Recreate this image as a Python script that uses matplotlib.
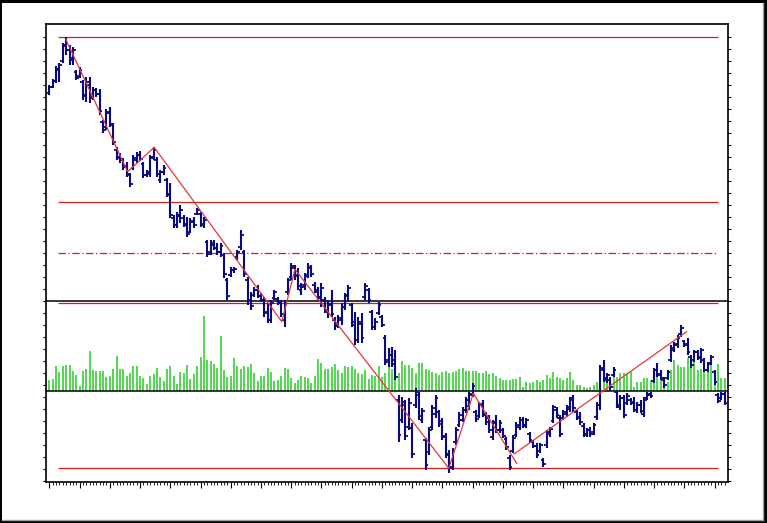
import numpy as np
import matplotlib
matplotlib.use("Agg")
import matplotlib.pyplot as plt
from matplotlib.patches import Rectangle
from matplotlib.lines import Line2D

# ---------------- data ----------------
high = [41.5,42.1,43.4,43.7,45.7,46.3,45.5,45.3,43.0,43.3,
        42.0,42.3,42.3,41.3,41.2,41.1,38.0,39.1,39.3,37.7,
        35.3,34.7,34.2,33.8,32.7,34.5,34.8,34.9,33.8,33.0,
        34.5,35.3,34.3,
        33.0,33.5,32.2,31.7,28.5,28.8,29.5,28.5,28.3,28.2,
        28.3,29.2,28.8,28.3,26.0,26.0,26.0,25.7,25.7,24.7,
        22.2,23.3,23.3,25.0,27.0,25.0,22.3,20.8,21.3,21.5,
        20.7,20.3,19.7,20.0,21.0,
        20.3,20.0,20.0,22.2,23.7,23.5,23.2,21.7,22.7,23.7,
        23.5,21.8,21.3,21.7,20.3,20.0,21.0,18.3,18.5,19.7,
        20.7,21.5,19.7,18.8,18.3,18.7,21.7,21.2,
        19.0,18.2,19.8,18.5,16.5,15.2,
        15.3,15.0,10.5,10.3,10.0,10.2,7.7,11.2,10.8,9.2,
        6.2,7.3,9.5,10.5,9.0,8.2,6.7,5.0,5.2,7.3,
        8.8,9.3,10.3,10.8,11.7,9.0,9.8,10.0,8.8,8.5,8.0,8.5,8.0,
        7.2,6.3,4.5,6.5,7.8,8.3,8.3,8.2,6.8,6.0,
        5.7,5.7,4.2,7.0,7.3,9.5,9.3,8.5,9.0,9.5,
        10.3,10.5,9.0,8.8,7.7,7.2,7.3,7.7,9.8,13.5,
        14.0,12.7,12.3,13.3,11.0,10.5,10.5,10.7,10.2,10.3,
        9.8,10.0,10.3,10.8,10.8,13.2,13.7,13.0,12.3,13.0,
        15.5,15.8,16.5,17.5,16.0,16.2,14.5,15.0,15.0,15.2,
        14.2,13.8,14.5,13.0,10.7,10.8,10.8]

low = [40.5,41.2,41.7,41.8,43.7,44.5,43.5,43.5,42.0,42.2,
       40.0,39.8,39.7,40.0,40.3,38.5,36.7,37.0,37.3,35.5,
       34.0,33.7,33.0,32.3,31.3,33.0,33.7,33.9,32.2,32.3,
       32.3,34.0,32.3,
       31.7,32.5,30.3,28.2,27.2,27.2,27.7,27.3,26.3,26.7,
       27.2,28.5,27.3,27.2,24.3,24.5,25.0,24.5,24.3,22.2,
       20.0,22.3,22.7,24.0,25.0,22.3,19.5,19.0,20.3,20.2,
       19.8,18.3,17.7,17.7,20.0,
       19.5,18.3,17.3,20.5,22.0,22.0,21.0,20.5,21.0,22.2,
       22.3,20.7,20.0,19.3,18.7,18.2,18.3,17.0,17.2,17.5,
       19.0,19.8,17.3,15.5,15.7,15.7,20.0,19.7,
       17.0,17.0,18.5,17.3,13.5,13.3,
       13.3,12.0,5.8,7.7,6.0,7.0,4.2,9.2,8.0,7.7,
       3.0,4.5,7.0,8.2,7.3,6.0,4.2,2.7,3.0,5.5,
       7.3,7.8,8.7,9.0,10.3,7.8,8.2,8.3,7.5,6.7,6.0,6.7,6.7,
       6.2,5.0,3.0,4.7,6.3,7.0,7.2,7.2,5.7,5.2,
       4.2,4.7,3.3,5.2,6.3,7.7,8.2,6.3,8.0,8.3,
       8.8,8.8,8.0,7.5,6.3,6.3,6.3,6.5,8.0,9.0,
       11.8,11.7,11.0,12.3,9.2,9.0,8.2,9.5,9.5,8.8,
       8.7,8.7,8.3,10.0,10.2,11.7,12.3,12.0,11.2,12.0,
       13.8,14.8,15.2,16.3,15.3,14.5,13.2,13.8,14.0,13.7,
       12.8,12.8,13.5,11.5,9.7,10.0,9.5]

open_ = [40.7,41.3,41.9,43.0,43.9,45.5,45.0,44.2,42.8,42.4,
         41.8,40.4,41.5,40.3,41.0,40.6,37.8,37.3,38.7,37.5,
         35.0,34.2,34.0,33.4,32.5,33.2,34.0,34.5,33.6,32.5,
         32.6,34.3,34.0,
         32.0,32.8,32.0,30.5,28.2,27.5,28.4,28.2,27.5,26.8,
         27.8,28.6,28.6,27.5,25.8,24.8,25.5,25.2,24.8,24.5,
         22.0,22.5,23.0,24.3,25.3,24.8,22.0,20.0,20.5,21.0,
         20.4,20.0,18.8,18.0,20.2,
         20.1,19.8,18.0,20.8,22.3,23.2,22.5,21.0,21.3,22.5,
         23.2,21.5,20.8,20.2,20.0,18.8,19.6,18.0,17.5,18.0,
         19.3,20.5,19.5,17.5,16.0,17.6,20.3,21.0,
         18.8,17.3,18.7,18.3,16.2,14.0,
         14.5,14.0,10.0,8.0,9.5,7.3,7.2,9.5,10.5,8.0,
         6.0,4.8,7.3,8.6,8.8,7.9,6.4,4.6,3.3,5.8,
         7.5,8.0,9.0,9.4,10.6,8.8,8.4,9.6,8.5,8.2,6.3,7.8,7.0,
         7.0,6.1,4.2,4.9,6.5,7.3,8.0,7.4,6.6,5.8,
         5.4,4.9,4.0,5.5,6.6,7.9,9.0,8.2,8.2,8.6,
         9.1,10.2,8.8,8.3,7.4,6.5,7.0,6.8,8.3,9.5,
         13.2,12.0,12.0,12.5,10.8,9.3,10.2,9.7,10.0,9.8,
         9.0,9.5,8.6,10.2,10.5,11.9,13.0,12.5,12.0,12.2,
         14.0,15.0,15.5,16.6,15.9,15.6,14.3,14.0,14.8,14.2,
         14.0,13.0,13.7,12.8,10.5,10.2,10.6]

close = [41.3,41.9,43.1,43.5,45.4,45.0,44.0,45.0,42.2,43.0,
         40.5,41.8,40.2,41.0,40.6,38.9,37.0,38.8,37.6,35.8,
         34.3,34.0,33.3,32.6,31.6,34.2,34.5,34.1,32.5,32.8,
         34.2,35.0,32.6,
         32.8,33.2,30.6,28.5,27.5,28.5,29.0,27.6,26.6,27.9,
         27.5,29.0,27.6,28.0,24.6,25.7,25.2,24.8,25.4,22.6,
         20.4,23.0,23.1,24.8,26.5,22.6,20.0,19.4,21.0,20.4,
         20.0,18.7,18.0,19.7,20.8,
         19.7,18.6,19.6,22.0,23.4,22.4,21.4,21.5,22.4,23.3,
         22.6,21.0,20.3,21.2,19.0,19.5,18.6,17.4,18.2,19.3,
         20.4,21.2,17.8,16.0,17.8,16.2,21.4,20.0,
         17.3,17.8,19.5,17.5,13.8,14.5,
         13.6,12.3,6.5,9.8,6.4,9.7,4.6,10.8,8.4,8.9,
         3.5,7.0,9.2,10.2,7.6,6.3,4.5,3.2,4.9,7.0,
         8.5,9.0,10.0,10.5,11.4,8.1,9.5,8.6,7.8,7.0,7.7,7.0,7.7,
         6.4,5.3,3.3,6.2,7.5,8.0,7.5,8.0,6.0,5.4,
         4.5,5.5,3.6,6.8,7.1,9.3,8.5,6.6,8.8,9.3,
         10.0,9.2,8.2,7.8,6.6,7.0,6.6,7.5,9.5,13.0,
         12.2,12.5,11.3,13.0,9.5,10.2,8.5,10.4,9.7,9.0,
         9.5,8.9,10.0,10.6,10.4,13.0,12.6,12.2,11.5,12.8,
         15.2,15.6,16.2,17.2,15.5,14.8,13.5,14.8,14.3,15.0,
         13.0,13.6,14.3,11.8,9.9,10.6,9.7]

volume = [11,12,25,19,25,26,26,20,16,5,
          20,22,40,21,20,20,20,14,15,22,
          35,22,22,15,18,25,25,15,13,7,
          15,17,23,
          14,10,22,25,15,7,19,18,26,12,17,25,34,75,31,30,27,23,55,21,14,15,33,25,22,25,24,27,18,10,15,15,23,19,
          10,11,15,23,22,13,8,
          11,15,14,13,8,15,32,28,22,22,24,27,21,18,25,24,25,22,18,17,21,12,16,15,25,14,
          18,29,22,20,18,30,26,26,23,18,28,28,22,21,19,18,16,19,20,18,19,20,22,23,20,20,20,20,18,18,20,17,18,15,13,
          11,11,11,12,12,14,4,9,8,9,11,9,11,16,13,19,14,13,11,13,19,11,6,6,4,3,4,6,9,23,29,14,14,
          14,14,18,18,18,19,4,9,9,13,13,11,18,21,18,14,9,21,31,26,24,24,33,23,31,21,22,23,19,27,11,27,13,13]

# Fibonacci retracement
fib_high = 46.3
fib_low = 3.2
fib_ratios = [0.0, 0.382, 0.5, 0.618, 1.0]
fib_start, fib_end = 2.7, 199.0

# zig-zag trend lines (bar index, price)
zigzag_idx = [4.9, 23.3, 31.2, 69.2, 73.1, 118.9, 126.2, 139.1]
zigzag_px = [46.07, 32.83, 35.27, 17.83, 23.07, 3.17, 10.67, 3.67]
trend_idx = [138.3, 189.7]
trend_px = [4.6, 16.83]

# volume panel boundaries on the price scale
vol_top_price = 19.95
vol_base_price = 10.9

# ---------------- figure ----------------
W, H = 767, 523
fig = plt.figure(figsize=(W / 100, H / 100), dpi=100, facecolor='black')
fig.patches.append(Rectangle((2 / W, 3 / H), 761 / W, 517 / H, transform=fig.transFigure,
                             facecolor='white', edgecolor='none', zorder=0))
fig.lines.append(Line2D([762.5 / W, 762.5 / W], [3 / H, 520 / H], transform=fig.transFigure,
                        color='#a0a0a0', lw=1))
fig.lines.append(Line2D([2 / W, 763 / W], [3.5 / H, 3.5 / H], transform=fig.transFigure,
                        color='#a0a0a0', lw=1))

left, right, top, bottom = 46, 728, 24, 482
ax_rect = [left / W, (H - bottom) / H, (right - left) / W, (bottom - top) / H]
vol_rect = [left / W, (H - 391) / H, (right - left) / W, 91 / H]

axv = fig.add_axes(vol_rect)
ax = fig.add_axes(ax_rect)
axv.set_zorder(1)
ax.set_zorder(2)
ax.patch.set_alpha(0)

n = min(len(high), len(low), len(open_), len(close), len(volume))
x = np.arange(n)
hi = np.array(high[:n]); lo = np.array(low[:n])
op = np.array(open_[:n]); cl = np.array(close[:n]); vo = np.array(volume[:n])

xlim = (-1.0, 202.0)
ax.set_xlim(*xlim)
axv.set_xlim(*xlim)
ax.set_ylim(1.8, 47.6)
axv.set_ylim(0, 91)
axv.axis('off')

# volume
axv.vlines(x, 0, vo, color='#3cd43c', lw=1.25)

# price OHLC bars
navy = '#0a0a80'
ax.vlines(x, lo, hi, color=navy, lw=1.5, zorder=4)
ax.hlines(op, x - 0.8, x, color=navy, lw=1.3, zorder=4)
ax.hlines(cl, x, x + 0.8, color=navy, lw=1.3, zorder=4)

# panel lines
ax.axhline(vol_top_price, color='black', lw=1.1, zorder=3)
ax.axhline(vol_base_price, color='black', lw=1.1, zorder=3)

# fibonacci levels
red = '#cf1f1f'
for r in fib_ratios:
    lvl = fib_high - r * (fib_high - fib_low)
    ls = (0, (6, 2, 1, 2)) if r == 0.5 else '-'
    ax.hlines(lvl, fib_start, fib_end, color=red, lw=0.9, linestyles=ls, zorder=3)

# trend lines
ax.plot(zigzag_idx, zigzag_px, color='#e03a3a', lw=0.9, zorder=5)
ax.plot(trend_idx, trend_px, color='#e03a3a', lw=0.9, zorder=5)

# ticks
yt = 46.33 - 1.2 * np.arange(0, 38)
ax.set_yticks(yt)
ax.set_xticks(np.arange(0, n, 9))
ax.set_xticks(np.arange(0, n, 1), minor=True)
ax.tick_params(axis='y', which='both', left=True, right=True, direction='out', length=2.5,
               width=0.8, labelleft=False, labelright=False)
ax.tick_params(axis='x', which='major', bottom=True, direction='out', length=4, width=0.8,
               labelbottom=False)
ax.tick_params(axis='x', which='minor', bottom=True, direction='out', length=2, width=0.6)
for s in ax.spines.values():
    s.set_color('black')
    s.set_linewidth(1.2)

fig.savefig('out.png', dpi=100, facecolor='black')
